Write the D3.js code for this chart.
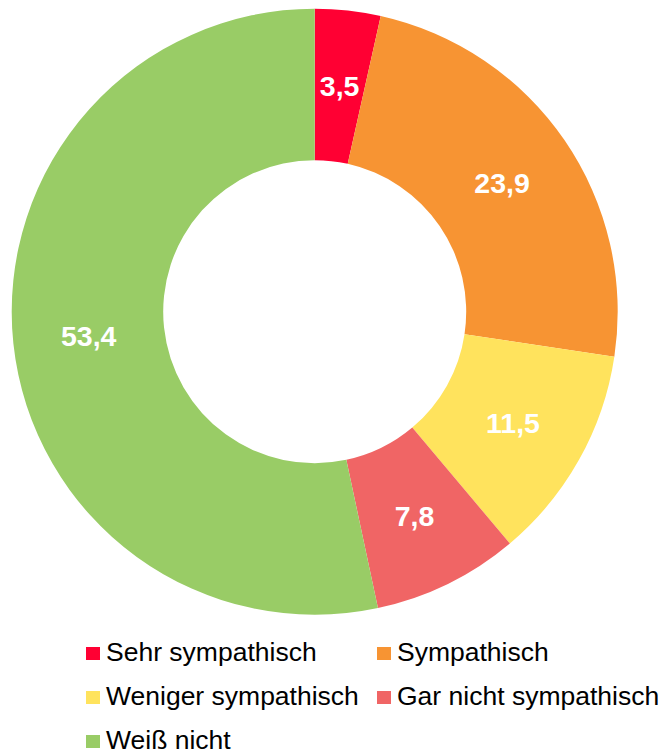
<!DOCTYPE html>
<html>
<head>
<meta charset="utf-8">
<script src="https://cdn.jsdelivr.net/npm/d3@7"></script>
<style>
  body { margin: 0; background: #fff; }
  svg { display: block; font-family: "Liberation Sans", Arial, sans-serif; }
</style>
</head>
<body>
<div id="chart"></div>
<script>
const categories = ['Sehr sympathisch', 'Sympathisch', 'Weniger sympathisch', 'Gar nicht sympathisch', 'Weiß nicht'];
const values = [3.5, 23.9, 11.5, 7.8, 53.4];
const colors = ['#FF0033', '#F79433', '#FFE35D', '#F06565', '#99CC66'];

const width = 662, height = 755;
const cx = 314.7, cy = 311.7, outerR = 303, innerR = 151.5;

const svg = d3.select('#chart').append('svg')
  .attr('width', width)
  .attr('height', height);

const pie = d3.pie().sort(null).value(d => d);
const arc = d3.arc().innerRadius(innerR).outerRadius(outerR);

const g = svg.append('g').attr('transform', `translate(${cx},${cy})`);
const slices = pie(values);

g.selectAll('path')
  .data(slices)
  .enter()
  .append('path')
  .attr('d', arc)
  .attr('fill', (d, i) => colors[i]);

// value labels at slice centroids
g.selectAll('text.lbl')
  .data(slices)
  .enter()
  .append('text')
  .attr('class', 'lbl')
  .attr('x', d => arc.centroid(d)[0])
  .attr('y', d => arc.centroid(d)[1] + 10)
  .attr('text-anchor', 'middle')
  .attr('fill', '#fff')
  .attr('font-weight', 'bold')
  .attr('font-size', '28.5px')
  .text(d => d3.format('.1f')(d.data).replace('.', ','));

// legend
const legendPos = [[86, 0], [377, 0], [86, 1], [377, 1], [86, 2]];
const legend = svg.append('g');
legendPos.forEach((p, i) => {
  const y0 = 647 + p[1] * 44;
  legend.append('rect')
    .attr('x', p[0]).attr('y', y0)
    .attr('width', 14).attr('height', 13)
    .attr('fill', colors[i]);
  legend.append('text')
    .attr('x', p[0] + 20).attr('y', y0 + 14)
    .attr('font-size', '26.5px')
    .attr('fill', '#000')
    .text(categories[i]);
});
</script>
</body>
</html>
